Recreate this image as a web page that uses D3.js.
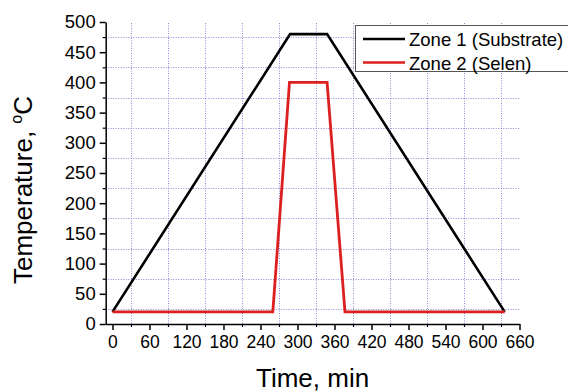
<!DOCTYPE html>
<html><head><meta charset="utf-8">
<script src="https://cdn.jsdelivr.net/npm/d3@7"></script>
<style>
html,body{margin:0;padding:0;background:#fff;overflow:hidden}
svg{display:block;font-family:"Liberation Sans",Arial,sans-serif}
</style></head>
<body>
<svg id="c" width="568" height="392"></svg>
<script>
// ---- data ----
const zone1Time = [0, 288, 348, 636];
const zone1Temp = [20, 480, 480, 20];
const zone2Time = [0, 260, 287, 348, 377, 636];
const zone2Temp = [20, 20, 400, 400, 20, 20];
const xMajorTicks = [0,60,120,180,240,300,360,420,480,540,600,660];
const xMinorTicks = [30,90,150,210,270,330,390,450,510,570,630];
const yMajorTicks = [0,50,100,150,200,250,300,350,400,450,500];
const yMinorTicks = [25,75,125,175,225,275,325,375,425,475];
const seriesNames = ["Zone 1 (Substrate)", "Zone 2 (Selen)"];
const seriesColors = ["#000000", "#dc1f1f"];

const FONT = "'Liberation Sans',Arial,sans-serif";
const svg = d3.select("#c");
const x = d3.scaleLinear().domain([-11, 660]).range([105.7, 519.5]);
const y = d3.scaleLinear().domain([0, 500]).range([324, 22]);

// grid (on minor ticks)
const grid = svg.append("g").attr("stroke", "#8a8ad6").attr("stroke-width", 1)
  .attr("stroke-dasharray", "1,1.5").attr("fill", "none");
grid.selectAll("line.h").data(yMinorTicks).join("line")
  .attr("x1", x(-11)).attr("x2", x(660))
  .attr("y1", d => Math.round(y(d)) + 0.5).attr("y2", d => Math.round(y(d)) + 0.5);
grid.selectAll("line.v").data(xMinorTicks).join("line")
  .attr("y1", y(0)).attr("y2", y(500))
  .attr("x1", d => Math.round(x(d)) + 0.5).attr("x2", d => Math.round(x(d)) + 0.5);

// axes
const xAxis = d3.axisBottom(x).tickValues(xMajorTicks).tickSize(6).tickPadding(6).tickSizeOuter(0);
const gx = svg.append("g").attr("transform", `translate(0,${y(0)})`).call(xAxis);
gx.select(".domain").attr("stroke-width", 1.5);
gx.selectAll(".tick line").attr("stroke-width", 1.5);
gx.selectAll("text").attr("font-size", 17.5).attr("fill", "#000").attr("font-family", FONT);
const xMinor = d3.axisBottom(x).tickValues(xMinorTicks).tickSize(3).tickFormat("").tickSizeOuter(0);
const gxm = svg.append("g").attr("transform", `translate(0,${y(0)})`).call(xMinor);
gxm.select(".domain").remove();
gxm.selectAll(".tick line").attr("stroke-width", 1.2);

const yAxis = d3.axisLeft(y).tickValues(yMajorTicks).tickSize(6).tickPadding(4).tickSizeOuter(0);
const gy = svg.append("g").attr("transform", `translate(${x(-11)},0)`).call(yAxis);
gy.select(".domain").attr("stroke-width", 1.5);
gy.selectAll(".tick line").attr("stroke-width", 1.5);
gy.selectAll("text").attr("font-size", 18.5).attr("fill", "#000").attr("font-family", FONT);
const yMinor = d3.axisLeft(y).tickValues(yMinorTicks).tickSize(3).tickFormat("").tickSizeOuter(0);
const gym = svg.append("g").attr("transform", `translate(${x(-11)},0)`).call(yMinor);
gym.select(".domain").remove();
gym.selectAll(".tick line").attr("stroke-width", 1.2);

// lines
const line = d3.line().x(d => x(d[0])).y(d => y(d[1]));
const series = [
  zone1Time.map((t, i) => [t, zone1Temp[i]]),
  zone2Time.map((t, i) => [t, zone2Temp[i]])
];
series.forEach((s, i) => {
  svg.append("path").datum(s).attr("d", line).attr("fill", "none")
    .attr("stroke", seriesColors[i]).attr("stroke-width", i === 0 ? 2.6 : 2.8)
    .attr("stroke-linejoin", "miter");
});

// legend
const lg = svg.append("g");
lg.append("rect").attr("x", 355.5).attr("y", 25.5).attr("width", 240).attr("height", 46)
  .attr("fill", "#fff").attr("stroke", "#555").attr("stroke-width", 1);
seriesNames.forEach((n, i) => {
  const cy = 39 + i * 23.5;
  lg.append("line").attr("x1", 363).attr("x2", 405).attr("y1", cy).attr("y2", cy)
    .attr("stroke", seriesColors[i]).attr("stroke-width", 2.6);
  lg.append("text").attr("x", 409).attr("y", cy + 7).attr("font-size", 18.5)
    .attr("fill", "#000").text(n);
});

// axis titles
svg.append("text").attr("x", (x(-11) + x(660)) / 2).attr("y", 387)
  .attr("text-anchor", "middle").attr("font-size", 26).attr("fill", "#000").text("Time, min");
const yt = svg.append("text").attr("transform", "translate(31.5,190) rotate(-90)")
  .attr("text-anchor", "middle").attr("font-size", 26).attr("fill", "#000");
yt.append("tspan").text("Temperature, ");
yt.append("tspan").attr("font-size", 16).attr("dy", -10).text("o");
yt.append("tspan").attr("dy", 10).text("C");
</script>
</body></html>
